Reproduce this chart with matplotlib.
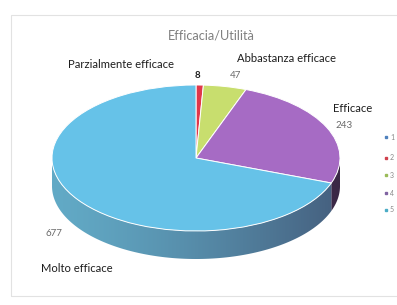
import matplotlib.pyplot as plt
import matplotlib.patches as mpatches
from matplotlib.colors import to_rgb
from matplotlib.transforms import Affine2D
import numpy as np

# dati
categorie = ["1", "2", "3", "4", "5"]
nomi = ["", "Parzialmente efficace", "Abbastanza efficace", "Efficace", "Molto efficace"]
valori = [0, 8, 47, 243, 677]
colori_top = ["#5b8ccc", "#e0374a", "#c8de6e", "#a66bc4", "#66c2e8"]
lato_sx = ["#3f6a9e", "#a02535", "#8fa040", "#6e4282", "#62aac6"]
lato_dx = ["#2f5078", "#701a25", "#607020", "#3a2845", "#455f7e"]
colori_legenda = ["#4f81bd", "#d0404d", "#9bbb59", "#8064a2", "#4bacc6"]

W, H = 397, 305
fig = plt.figure(figsize=(W / 100, H / 100), dpi=100)
ax = fig.add_axes([0, 0, 1, 1])
ax.axis("off")
plt.rcParams["font.family"] = ["Lato", "DejaVu Sans"]

cx, cy = 196, H - 158   # centro torta
r = 144
sy = 73 / 144            # schiacciamento prospettico
depth = 28

# bordo del grafico
ax.add_patch(mpatches.Rectangle((11, H - 296), 390, 281, fill=False,
                                edgecolor="#e2e2e2", linewidth=0.8))

idx = [i for i, v in enumerate(valori) if v > 0]
vals = [valori[i] for i in idx]
wedges, _ = ax.pie(vals, center=(cx, cy), radius=r, startangle=90,
                   counterclock=False, frame=True,
                   colors=[colori_top[i] for i in idx],
                   wedgeprops=dict(edgecolor="white", linewidth=0.7))
squash = Affine2D().translate(-cx, -cy).scale(1, sy).translate(cx, cy)
for w in wedges:
    w.set_transform(squash + ax.transData)
    w.set_zorder(5)

# lati visibili (parte frontale) con sfumatura
for w, i in zip(wedges, idx):
    t1, t2 = w.theta1, w.theta2
    for lo, hi in [(-180, 0), (180, 360)]:
        a, b = max(t1, lo), min(t2, hi)
        if b <= a:
            continue
        ts = np.radians(np.linspace(a, b, 200))
        xe = cx + r * np.cos(ts)
        ye = cy + r * sy * np.sin(ts)
        xs = np.concatenate([xe, xe[::-1]])
        ys = np.concatenate([ye, ye[::-1] - depth])
        poly = mpatches.Polygon(np.column_stack([xs, ys]), closed=True,
                                facecolor="none", edgecolor="none")
        ax.add_patch(poly)
        c1, c2 = np.array(to_rgb(lato_sx[i])), np.array(to_rgb(lato_dx[i]))
        u = np.linspace(0, 1, 256)[None, :, None]
        # posizione lungo tutta la torta, non solo lo spicchio
        x0, x1 = xs.min(), xs.max()
        uu = ((np.linspace(x0, x1, 256) - (cx - r)) / (2 * r))[None, :, None]
        grad = np.clip(c1 + (c2 - c1) * uu ** 1.3, 0, 1)
        grad = np.repeat(grad, 2, axis=0)
        im = ax.imshow(grad, extent=(x0, x1, ys.min(), ys.max()),
                       aspect="auto", origin="lower", zorder=3,
                       interpolation="bilinear")
        im.set_clip_path(poly)

ax.set_aspect("auto")
ax.set_xlim(0, W)
ax.set_ylim(0, H)

# titolo
ax.text(211, H - 36, "Efficacia/Utilità", ha="center", va="center",
        fontsize=9.2, color="#808080")

# etichette
lab = dict(fontsize=8.1, color="#1e1e1e", va="center")
num = dict(fontsize=7, color="#6a6a6a", va="center")
ax.text(68, H - 65, nomi[1], ha="left", **lab)
ax.text(197, H - 75, str(valori[1]), ha="center", fontsize=7,
        color="#1e1e1e", fontweight="bold", va="center")
ax.text(237, H - 58, nomi[2], ha="left", **lab)
ax.text(230, H - 76, str(valori[2]), ha="left", **num)
ax.text(333, H - 109, nomi[3], ha="left", **lab)
ax.text(336, H - 126, str(valori[3]), ha="left", **num)
ax.text(46, H - 233, str(valori[4]), ha="left", **num)
ax.text(41, H - 268, nomi[4], ha="left", **lab)

# legenda
ly = [137, 158, 175, 193, 210]
for k, c in enumerate(categorie):
    ax.plot(386, H - ly[k], marker="s", ms=2, color=colori_legenda[k],
            linestyle="none", clip_on=False)
    ax.text(390, H - ly[k], c, fontsize=5, color="#888888", va="center")

fig.savefig("out.png", dpi=100)
